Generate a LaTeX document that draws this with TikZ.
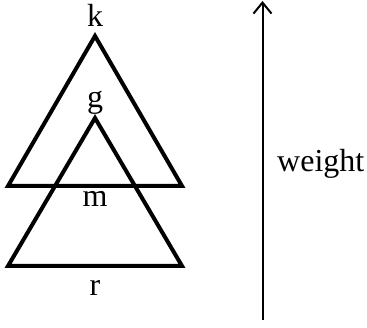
\documentclass[tikz,border=0pt]{standalone}
\usepackage{fontspec}
\setmainfont{Liberation Serif}
\usetikzlibrary{arrows.meta}
\begin{document}
\begin{tikzpicture}[x=1pt,y=-1pt,
  tri/.style={line width=4pt,line join=miter},
  lab/.style={font=\fontsize{32}{32}\selectfont,inner sep=0pt,anchor=base},
  axis/.style={line width=2pt,-{Straight Barb[length=11pt,width=18pt,line width=2pt]}}]
\useasboundingbox (0,0) rectangle (367,328);
\coordinate (kt) at (95,36);
\coordinate (kl) at (8,186);
\coordinate (kr) at (182,186);
\coordinate (gt) at (95,118);
\coordinate (gl) at (8,266);
\coordinate (gr) at (182,266);
\draw[tri] (kt) -- (kl) -- (kr) -- cycle;
\draw[tri] (gt) -- (gl) -- (gr) -- cycle;
\node[lab] (k) at (95,27) {k};
\node[lab] (g) at (95,108) {g};
\node[lab] (m) at (95,207) {m};
\node[lab] (r) at (95,296) {r};
\coordinate (a0) at (262.5,320);
\coordinate (a1) at (262.5,1);
\draw[axis] (a0) -- (a1);
\node[lab,anchor=base west] (w) at (277,172) {weight};
\end{tikzpicture}
\end{document}
